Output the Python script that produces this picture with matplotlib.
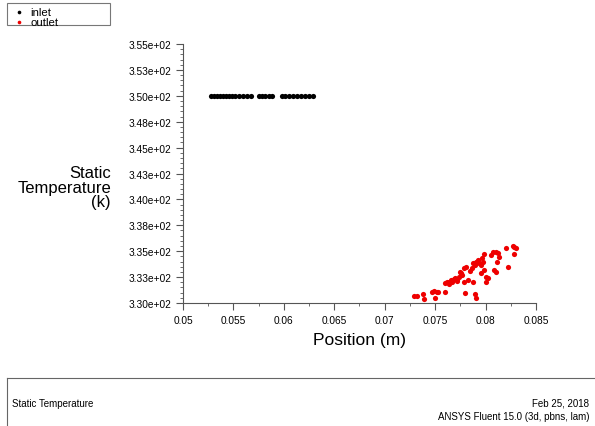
import matplotlib
matplotlib.use("Agg")
import matplotlib.pyplot as plt
from matplotlib.ticker import MultipleLocator, FuncFormatter
from matplotlib.lines import Line2D
from matplotlib.patches import Rectangle

plt.rcParams['font.family'] = ['Liberation Sans', 'DejaVu Sans']

# inlet face samples (all at the inlet temperature)
inlet_x = [0.0528, 0.0531, 0.0534, 0.0537, 0.0540, 0.0543, 0.0546, 0.0549,
           0.0552, 0.0556, 0.0559, 0.0563, 0.0567, 0.0575, 0.0578, 0.0581,
           0.0585, 0.0588, 0.0598, 0.0601, 0.0605, 0.0609, 0.0613, 0.0617,
           0.0621, 0.0625, 0.0629]
inlet_T = [350.0, 350.0, 350.0, 350.0, 350.0, 350.0, 350.0, 350.0,
           350.0, 350.0, 350.0, 350.0, 350.0, 350.0, 350.0, 350.0,
           350.0, 350.0, 350.0, 350.0, 350.0, 350.0, 350.0, 350.0,
           350.0, 350.0, 350.0]

# outlet face samples
outlet_x = [0.07290, 0.07317, 0.07383, 0.07390, 0.07473, 0.07489, 0.07516,
            0.07499, 0.07532, 0.07599, 0.07599, 0.07615, 0.07638, 0.07655,
            0.07671, 0.07688, 0.07698, 0.07715, 0.07738, 0.07748, 0.07771,
            0.07788, 0.07804, 0.07788, 0.07821, 0.07864, 0.07880, 0.07894,
            0.07907, 0.07927, 0.07937, 0.07953, 0.07970, 0.07986, 0.07953,
            0.07980, 0.08003, 0.08020, 0.08003, 0.07880, 0.07794, 0.07894,
            0.07904, 0.08069, 0.08102, 0.08119, 0.08135, 0.08112, 0.08086,
            0.08102, 0.08202, 0.08218, 0.08268, 0.08285, 0.08301, 0.08278,
            0.07640, 0.07720, 0.07760, 0.07850, 0.07960, 0.08050]
outlet_T = [330.68, 330.68, 330.87, 330.39, 331.09, 331.19, 331.06,
            330.51, 331.09, 331.09, 331.90, 331.99, 332.06, 332.22,
            332.06, 332.28, 332.38, 332.22, 332.54, 333.02, 332.70,
            333.35, 333.51, 331.99, 332.22, 333.35, 333.83, 333.67,
            333.99, 334.15, 333.83, 333.67, 333.99, 334.70, 332.86,
            333.19, 332.54, 332.38, 332.06, 332.06, 330.93, 330.87,
            330.51, 334.96, 334.96, 334.80, 334.47, 333.99, 333.19,
            333.02, 335.28, 333.51, 335.50, 335.44, 335.28, 334.70,
            331.80, 332.10, 332.90, 333.10, 334.30, 334.60]

x_range = (0.05, 0.085)
t_range = (330.0, 355.0)

fig = plt.figure(figsize=(5.95, 4.27), dpi=100)
ax = fig.add_axes([183 / 595, 1 - 304 / 427, 353 / 595, 259 / 427])

ax.scatter(inlet_x, inlet_T, s=14, color='black', linewidths=0, label='inlet', zorder=3)
ax.scatter(outlet_x, outlet_T, s=14, color='#ee0000', linewidths=0, label='outlet', zorder=3)

ax.set_xlim(*x_range)
ax.set_ylim(*t_range)

for side in ['top', 'right']:
    ax.spines[side].set_visible(False)
for side in ['left', 'bottom']:
    ax.spines[side].set_color('#555555')
    ax.spines[side].set_linewidth(0.8)

ax.xaxis.set_major_locator(MultipleLocator(0.005))
ax.xaxis.set_minor_locator(MultipleLocator(0.0025))
ax.yaxis.set_major_locator(MultipleLocator(2.5))
ax.yaxis.set_minor_locator(MultipleLocator(0.5))

# fluent rounds half up (3.325 -> 3.33)
ax.yaxis.set_major_formatter(FuncFormatter(lambda v, p: f"{v * (1 + 1e-9):.2e}"))
ax.xaxis.set_major_formatter(FuncFormatter(lambda v, p: f"{v:.3f}".rstrip('0')))

ax.tick_params(which='major', direction='out', length=5, width=0.8, color='#555555',
               labelsize=7.3, pad=3.5)
ax.tick_params(which='minor', direction='out', length=2.5, width=0.6, color='#555555')

ax.set_xlabel('Position (m)', fontsize=12.5, labelpad=5)
fig.text(111 / 595, 1 - 188 / 427, 'Static\nTemperature\n(k)', ha='right', va='center',
         multialignment='right', fontsize=12, linespacing=0.95)

# legend box in the top-left corner
fig.add_artist(Rectangle((7 / 595, 1 - 26 / 427), 103 / 595, 22 / 427,
                         transform=fig.transFigure, fill=False,
                         edgecolor='#777777', linewidth=0.8))
leg = fig.legend(loc='upper left', bbox_to_anchor=(9 / 595, 1 - 2 / 427),
                 frameon=False, fontsize=8.2, handlelength=0.8, handletextpad=0.6,
                 borderpad=0.0, labelspacing=0.0, markerscale=0.7)

# footer panel
fig.add_artist(Line2D([7 / 595, 1.0], [1 - 379 / 427, 1 - 379 / 427],
                      transform=fig.transFigure, color='#666666', linewidth=0.8))
fig.add_artist(Line2D([7 / 595, 7 / 595], [0.0, 1 - 379 / 427],
                      transform=fig.transFigure, color='#666666', linewidth=0.8))
fig.text(12 / 595, 1 - 404 / 427, 'Static Temperature', ha='left', va='center', fontsize=7)
fig.text(589 / 595, 1 - 404 / 427, 'Feb 25, 2018', ha='right', va='center', fontsize=7)
fig.text(589 / 595, 1 - 417 / 427, 'ANSYS Fluent 15.0 (3d, pbns, lam)', ha='right',
         va='center', fontsize=7)

fig.savefig('out.png', dpi=100)
